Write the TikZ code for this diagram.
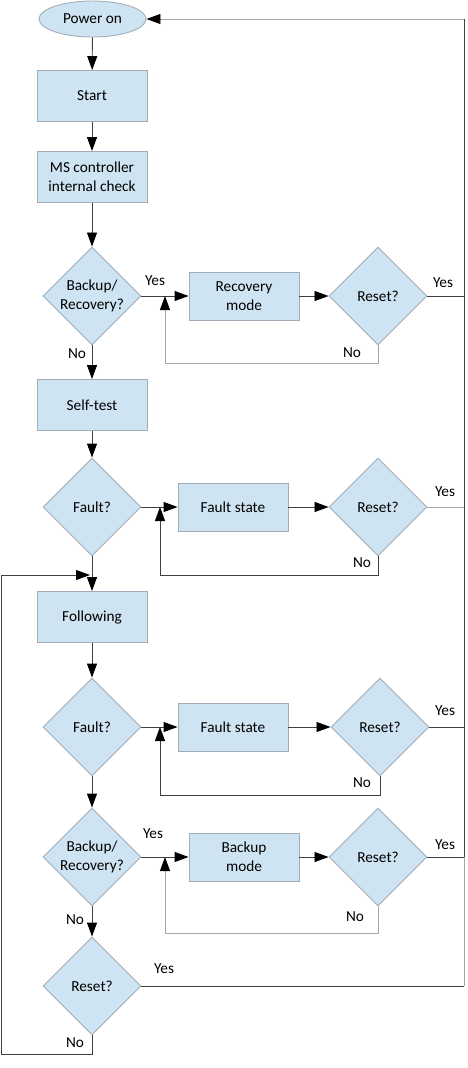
\documentclass[tikz,border=0pt]{standalone}
\usepackage{fontspec}
\setmainfont{Carlito}
\usetikzlibrary{shapes.geometric,arrows.meta,calc}
\definecolor{boxfill}{HTML}{CFE4F3}
\definecolor{boxline}{HTML}{A3ADB8}
\definecolor{darkline}{HTML}{404040}
\definecolor{lightline}{HTML}{A6A6A6}
\tikzset{
  txt/.style={font=\fontsize{15.3}{18.7}\selectfont,inner sep=0pt,align=center},
  proc/.style={txt,draw=boxline,fill=boxfill,line width=0.9pt,minimum width=110pt,minimum height=51pt},
  procs/.style={proc,minimum height=48pt},
  term/.style={txt,ellipse,draw=boxline,fill=boxfill,line width=0.9pt,minimum width=107pt,minimum height=36pt},
  decide/.style={txt,diamond,draw=boxline,fill=boxfill,line width=0.9pt,minimum width=98pt,minimum height=98pt},
  conn/.style={draw=darkline,line width=0.9pt},
  connl/.style={draw=lightline,line width=0.9pt},
  tip/.style={-{Triangle[length=14pt,width=10pt,color=black]}}
}
\begin{document}
\begin{tikzpicture}[x=1pt,y=-1pt]
      \useasboundingbox (0,0) rectangle (468,1068);
      \node[term](pwr) at (92.5,19) {Power on};
      \node[proc](start) at (92,96) {Start};
      \node[proc](check) at (92,177) {MS controller\\internal check};
      \node[decide](bk1) at (92,296) {Backup/\\Recovery?};
      \node[procs](recov) at (244,296) {Recovery\\mode};
      \node[decide](rst1) at (378,296) {Reset?};
      \node[proc](self) at (92,405) {Self-test};
      \node[decide](flt1) at (92,507) {Fault?};
      \node[procs](fs1) at (233,507) {Fault state};
      \node[decide](rst2) at (378,507) {Reset?};
      \node[proc](follow) at (92,617) {Following};
      \node[decide](flt2) at (92,727) {Fault?};
      \node[procs](fs2) at (233,727) {Fault state};
      \node[decide](rst3) at (380,727) {Reset?};
      \node[decide](bk2) at (92,857) {Backup/\\Recovery?};
      \node[procs](bkm) at (244,857) {Backup\\mode};
      \node[decide](rst4) at (378,857) {Reset?};
      \node[decide](rst5) at (92,986) {Reset?};
      \coordinate(T) at (464,19);
      \coordinate(R1) at (464,296);
      \coordinate(R2) at (464,507);
      \coordinate(R3) at (464,727);
      \coordinate(R4) at (464,857);
      \coordinate(R5) at (464,986);
      \coordinate(L1) at (165,296);
      \coordinate(B1) at (165,363);
      \coordinate(L2) at (160,507);
      \coordinate(B2) at (160,575);
      \coordinate(L3) at (160,727);
      \coordinate(B3) at (160,795);
      \coordinate(L4) at (165,857);
      \coordinate(B4) at (165,933);
      \coordinate(J) at (90,575);
      \coordinate(W1) at (92,1054);
      \coordinate(W2) at (1.5,1054);
      \coordinate(W3) at (1.5,575);
      \draw[conn,tip](pwr)--(start);
      \draw[conn,tip](start)--(check);
      \draw[conn,tip](check)--(bk1);
      \draw[conn,tip](bk1)--(self);
      \draw[conn,tip](self)--(flt1);
      \draw[conn,tip](flt1)--(follow);
      \draw[conn,tip](follow)--(flt2);
      \draw[conn,tip](flt2)--(bk2);
      \draw[conn,tip](bk2)--(rst5);
      \draw[conn,tip](bk1)--(recov);
      \draw[conn,tip](recov)--(rst1);
      \draw[conn,tip](flt1)--(fs1);
      \draw[conn,tip](fs1)--(rst2);
      \draw[conn,tip](flt2)--(fs2);
      \draw[conn,tip](fs2)--(rst3);
      \draw[conn,tip](bk2)--(bkm);
      \draw[conn,tip](bkm)--(rst4);
      \draw[connl,tip](rst1.south)|-(B1)--(L1);
      \draw[conn,tip](rst2.south)|-(B2)--(L2);
      \draw[conn,tip](rst3.south)|-(B3)--(L3);
      \draw[connl,tip](rst4.south)|-(B4)--(L4);
      \draw[conn](rst1.east)--(R1);
      \draw[connl](rst2.east)--(R2);
      \draw[conn](rst3.east)--(R3);
      \draw[conn](rst4.east)--(R4);
      \draw[conn](rst5.east)--(R5);
      \draw[connl](R5)--(R4);
      \draw[conn](R4)--(T);
      \draw[connl,tip](T)--(pwr.east);
      \draw[conn,tip](rst5.south)--(W1)--(W2)--(W3)--(J);
      \node[txt](y1) at (155,281) {Yes};
      \node[txt](n1) at (77,354) {No};
      \node[txt](y2) at (443,283) {Yes};
      \node[txt](n2) at (352,353) {No};
      \node[txt](y3) at (445,492) {Yes};
      \node[txt](n3) at (362,563) {No};
      \node[txt](y4) at (445,711) {Yes};
      \node[txt](n4) at (362,783) {No};
      \node[txt](y5) at (153,834) {Yes};
      \node[txt](n5) at (75,920) {No};
      \node[txt](y6) at (445,845) {Yes};
      \node[txt](n6) at (355,917) {No};
      \node[txt](y7) at (164,969) {Yes};
      \node[txt](n7) at (75,1043) {No};
    \end{tikzpicture}
\end{document}
